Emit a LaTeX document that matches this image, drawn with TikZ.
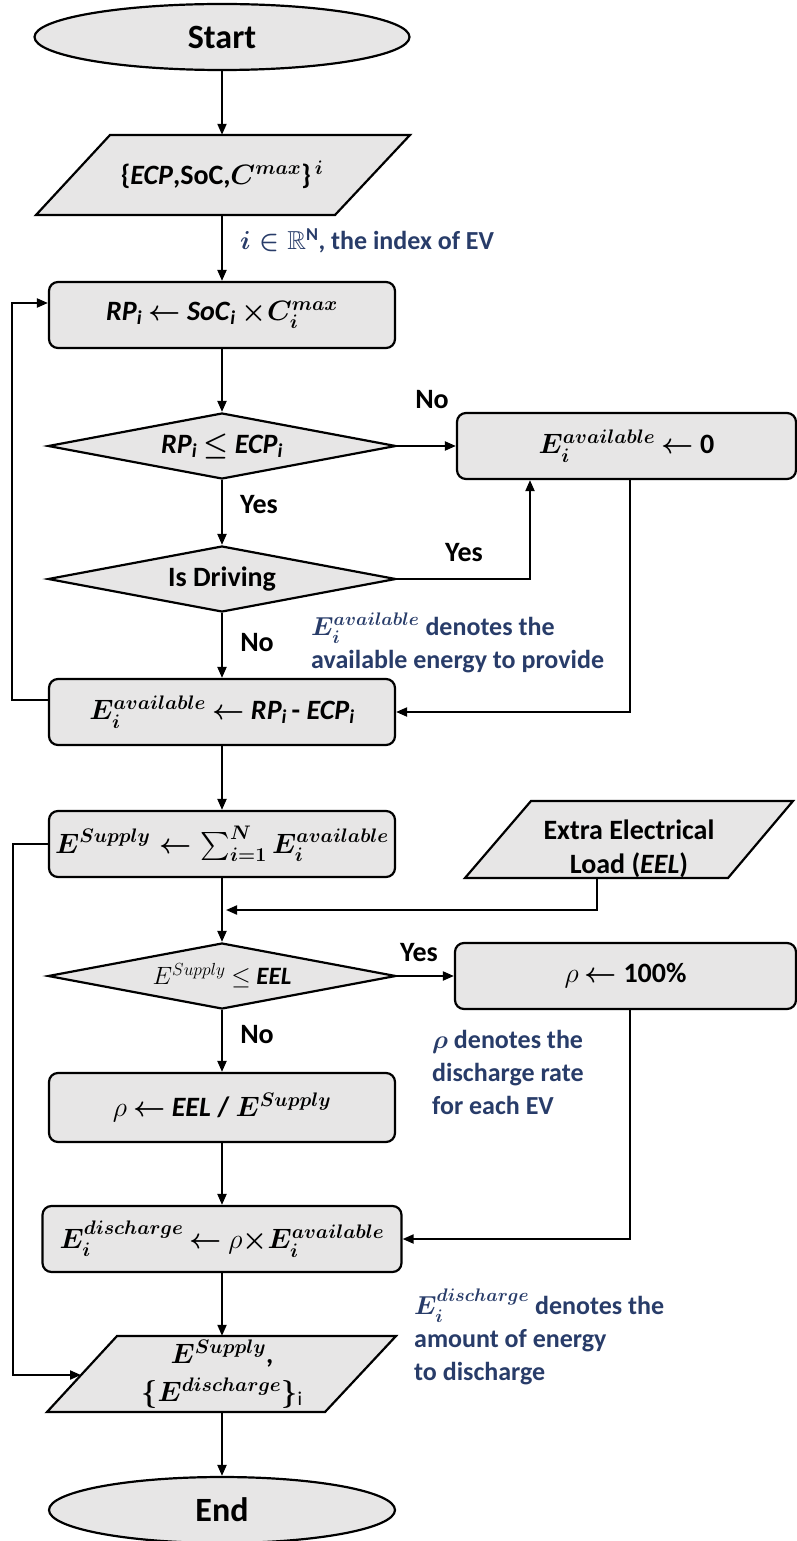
\documentclass[tikz,border=0pt]{standalone}
\usepackage{fix-cm}
\usepackage{amsmath,amssymb}
\usepackage{fontspec}
\setmainfont{Carlito}
\usetikzlibrary{shapes.geometric,arrows.meta,calc}
\definecolor{boxfill}{RGB}{231,230,230}
\definecolor{notecol}{RGB}{40,60,105}
\tikzset{
  base/.style={draw=black, line width=2.2pt, fill=boxfill, inner sep=0pt, align=center,
    font=\fontsize{28}{34}\selectfont\bfseries\boldmath},
  proc/.style={base, rectangle, rounded corners=9pt, minimum height=66pt},
  term/.style={base, ellipse, font=\fontsize{34}{40}\selectfont\bfseries},
  dec/.style={base, diamond, aspect=5.3, minimum width=348pt, minimum height=66pt},
  iobox/.style={rectangle, inner sep=0pt, align=center,
    font=\fontsize{28}{34}\selectfont\bfseries\boldmath},
  iopoly/.style={draw=black, line width=2.2pt, fill=boxfill, line join=miter},
  arr/.style={line width=2pt, -{Triangle[length=11pt,width=9pt]}},
  lbl/.style={font=\fontsize{28}{34}\selectfont\bfseries, inner sep=0pt},
  note/.style={font=\fontsize{26}{33}\selectfont\bfseries\boldmath, text=notecol,
    align=left, inner sep=0pt, anchor=west},
}
\newcommand{\ITsub}[1]{\textit{#1}\textsubscript{\textit{i}}}
\begin{document}
\begin{tikzpicture}[x=1pt,y=-1pt]
\useasboundingbox (0,0) rectangle (797,1541);
% nodes
\node[term, minimum width=375pt, minimum height=66pt] (start) at (222,37) {Start};
\draw[iopoly] (110,135) -- (410,135) -- (335,215) -- (36,215) -- cycle;
\node[iobox, minimum width=300pt, minimum height=80pt] (in1) at (222,175)
  {\{\textit{ECP},SoC,$C^{max}$\}$^{\,i}$};
\node[proc, minimum width=346pt] (rp) at (222,315)
  {\ITsub{RP} $\leftarrow$ \ITsub{SoC} $\times C_i^{max}$};
\node[dec] (d1) at (222,446) {\ITsub{RP} $\leq$ \ITsub{ECP}};
\node[proc, minimum width=339pt] (av0) at (626.5,446) {$E_i^{available}$ $\leftarrow$ 0};
\node[dec] (d2) at (222,579) {Is Driving};
\node[proc, minimum width=346pt] (av) at (222,712)
  {$E_i^{available}$ $\leftarrow$ \ITsub{RP}\,- \ITsub{ECP}};
\node[proc, minimum width=346pt] (sup) at (222,844)
  {$E^{Supply} \leftarrow \sum_{i=1}^{N} E_i^{available}$};
\draw[iopoly] (531,801) -- (793,801) -- (728,878) -- (465,878) -- cycle;
\node[iobox, minimum width=262pt, minimum height=56pt] (eel) at (629,849)
  {Extra Electrical\\Load (\textit{EEL})};
\node[dec, font=\fontsize{25}{30}\selectfont\bfseries] (d3) at (222,976)
  {$E^{Supply}$ $\leq$ \textit{EEL}};
\node[proc, minimum width=341pt] (r100) at (625.5,976) {{\unboldmath$\rho$} $\leftarrow$ 100\%};
\node[proc, minimum width=346pt, minimum height=69pt] (rq) at (222,1107.5)
  {{\unboldmath$\rho$} $\leftarrow$ \textit{EEL} / $E^{Supply}$};
\node[proc, minimum width=359pt] (dis) at (222,1239)
  {$E_i^{discharge}$ $\leftarrow$ {\unboldmath$\rho$}$\times E_i^{available}$};
\draw[iopoly] (117,1336) -- (396,1336) -- (325,1412) -- (47,1412) -- cycle;
\node[iobox, minimum width=279pt, minimum height=76pt, font=\fontsize{28}{38}\selectfont\bfseries\boldmath] (out) at (222,1374)
  {$E^{Supply}$,\\$\{E^{discharge}\}$\textsubscript{\mdseries i}};
\node[term, minimum width=346pt, minimum height=66pt] (end) at (222,1510) {End};
% labels
\node[lbl] (no1) at (432,400) {No};
\node[lbl] (yes1) at (259,505) {Yes};
\node[lbl] (yes2) at (464,553) {Yes};
\node[lbl] (no2) at (257,643) {No};
\node[lbl] (yes3) at (419,953) {Yes};
\node[lbl] (no3) at (257,1035) {No};
% notes
\node[note] (n1) at (240,241) {$i \in \mathbb{R}^{\mathrm{N}}$, the index of EV};
\node[note] (n2) at (311,643) {$E_i^{available}$ denotes the\\available energy to provide};
\node[note] (n3) at (432,1072) {$\rho$ denotes the\\discharge rate\\for each EV};
\node[note] (n4) at (414,1337) {$E_i^{discharge}$ denotes the\\amount of energy\\to discharge};
% connectors
\draw[arr] (start.south) -- (in1.north);
\draw[arr] (in1.south) -- (rp.north);
\draw[arr] (rp) -- (d1);
\draw[arr] (d1) -- (av0);
\draw[arr] (d1) -- (d2);
\draw[arr] (d2.east) -| ([xshift=-96.5pt]av0.south);
\draw[arr] (d2) -- (av);
\draw[arr] ([xshift=3.5pt]av0.south) |- (av.east);
\draw[arr] ([yshift=12pt]av.west) -- ++(-36,0) |- ([yshift=12pt]rp.west);
\draw[arr] (av) -- (sup);
\draw[arr] (sup.south) -- (d3.north);
\coordinate (join) at (226,910);
\draw[arr] ([xshift=-32pt]eel.south) |- (join);
\draw[arr] (d3) -- (r100);
\draw[arr] (d3) -- (rq);
\draw[arr] (rq) -- (dis);
\draw[arr] ([xshift=4.5pt]r100.south) |- (dis.east);
\draw[arr] (dis) -- (out);
\coordinate (outin) at (81,1375);
\draw[arr] (sup.west) -- ++(-35,0) |- (outin);
\draw[arr] (out) -- (end);
\end{tikzpicture}
\end{document}
